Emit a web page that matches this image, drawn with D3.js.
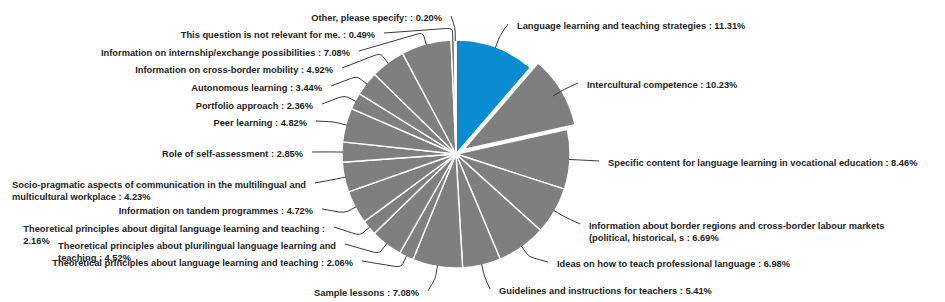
<!DOCTYPE html>
<html>
<head>
<meta charset="utf-8">
<script src="https://cdn.jsdelivr.net/npm/d3@7"></script>
<style>
  html, body { margin: 0; padding: 0; background: #fff; }
  #chart { width: 945px; height: 302px; }
</style>
</head>
<body>
<div id="chart"></div>
<script>
const width = 945;
const height = 302;

// categories, clockwise from 12 o'clock
const categories = [
  "Language learning and teaching strategies",
  "Intercultural competence",
  "Specific content for language learning in vocational education",
  "Information about border regions and cross-border labour markets (political, historical, s",
  "Ideas on how to teach professional language",
  "Guidelines and instructions for teachers",
  "Sample lessons",
  "Theoretical principles about language learning and teaching",
  "Theoretical principles about plurilingual language learning and teaching",
  "Theoretical principles about digital language learning and teaching",
  "Information on tandem programmes",
  "Socio-pragmatic aspects of communication in the multilingual and multicultural workplace",
  "Role of self-assessment",
  "Peer learning",
  "Portfolio approach",
  "Autonomous learning",
  "Information on cross-border mobility",
  "Information on internship/exchange possibilities",
  "This question is not relevant for me.",
  "Other, please specify:"
];

const values = [11.31, 10.23, 8.46, 6.69, 6.98, 5.41, 7.08, 2.06, 4.52, 2.16,
                4.72, 4.23, 2.85, 4.82, 2.36, 3.44, 4.92, 7.08, 0.49, 0.20];

// label anchor (x, y of first line, side) - layout only
const labelPos = [
  [517, 26, "start"], [587, 85, "start"], [608, 163, "start"], [589, 226, "start"],
  [557, 264, "start"], [499, 291, "start"], [419, 293, "end"], [353, 263, "end"],
  [336, 246, "end"], [325, 229, "end"], [313, 211, "end"], [306, 185, "end"],
  [303, 154, "end"], [307, 123, "end"], [313, 106, "end"], [322, 88, "end"],
  [333, 70, "end"], [350, 53, "end"], [375, 35, "end"], [442, 18, "end"]
];

const cx = 456, cy = 154, radius = 114;
const highlight = 0;   // blue slice
const exploded = 1;    // pulled out slice
const explodeBy = 9;
const fontSize = 9.3;
const wrapWidth = 316;
const lineH = 11.3;

const svg = d3.select("#chart")
  .append("svg")
  .attr("width", width)
  .attr("height", height)
  .style("display", "block")
  .style("font-family", "'Liberation Sans', Arial, sans-serif");

const pie = d3.pie().sort(null).value(d => d);
const arcs = pie(values);

const arc = d3.arc().innerRadius(0).outerRadius(radius);

const g = svg.append("g").attr("transform", `translate(${cx},${cy})`);

const pt = (a, r) => [r * Math.sin(a), -r * Math.cos(a)];

g.selectAll("path.slice")
  .data(arcs)
  .enter()
  .append("path")
  .attr("class", "slice")
  .attr("d", arc)
  .attr("transform", (d, i) => {
    if (i !== exploded) return null;
    const [dx, dy] = pt((d.startAngle + d.endAngle) / 2, explodeBy);
    return `translate(${dx},${dy})`;
  })
  .attr("fill", (d, i) => i === highlight ? "#0b8bd2" : "#7f7f7f")
  .attr("stroke", "#fff")
  .attr("stroke-width", 1.4)
  .attr("stroke-linejoin", "round");

// measuring helper for wrapping
const meas = svg.append("text")
  .attr("font-size", fontSize)
  .attr("font-weight", "bold")
  .attr("visibility", "hidden");
const textW = s => { meas.text(s); return meas.node().getComputedTextLength(); };

function wrap(s) {
  const words = s.split(" ");
  const lines = [];
  let cur = "";
  words.forEach(w => {
    const test = cur ? cur + " " + w : w;
    if (cur && textW(test) > wrapWidth) {
      lines.push(cur);
      cur = w;
    } else {
      cur = test;
    }
  });
  if (cur) lines.push(cur);
  return lines;
}

// leader lines
const lead = svg.append("g")
  .attr("transform", `translate(${cx},${cy})`)
  .attr("fill", "none")
  .attr("stroke", "#3a3a3a")
  .attr("stroke-width", 1);

arcs.forEach((d, i) => {
  const mid = (d.startAngle + d.endAngle) / 2;
  const [lx, ly, side] = labelPos[i];
  const e0 = pt(mid, radius - 1);
  const el = pt(mid, radius + 12);
  const end = [lx + (side === "end" ? 9 : -9) - cx, ly - 2 - cy];
  const toward = (p, q, k) => {
    const dx = q[0] - p[0], dy = q[1] - p[1];
    const len = Math.hypot(dx, dy) || 1;
    const t = Math.min(k / len, 0.5);
    return [p[0] + dx * t, p[1] + dy * t];
  };
  const a = toward(el, e0, 4);
  const b = toward(el, end, 6);
  lead.append("path")
    .attr("d", `M${e0}L${a}Q${el} ${b}L${end}`);
});

// labels
const labels = svg.append("g")
  .attr("font-size", fontSize)
  .attr("font-weight", "bold")
  .attr("fill", "#1e1e1e");

arcs.forEach((d, i) => {
  const [lx, ly, side] = labelPos[i];
  const lines = wrap(`${categories[i]} : ${values[i].toFixed(2)}%`);
  let x0 = lx;
  let anchor = side;
  if (lines.length > 1) {
    const bw = d3.max(lines, textW);
    anchor = "start";
    x0 = side === "end" ? lx - bw : lx;
  }
  const t = labels.append("text")
    .attr("text-anchor", anchor);
  lines.forEach((ln, k) => {
    t.append("tspan")
      .attr("x", x0)
      .attr("y", ly + k * lineH)
      .attr("dy", "0.35em")
      .text(ln);
  });
});
</script>
</body>
</html>
